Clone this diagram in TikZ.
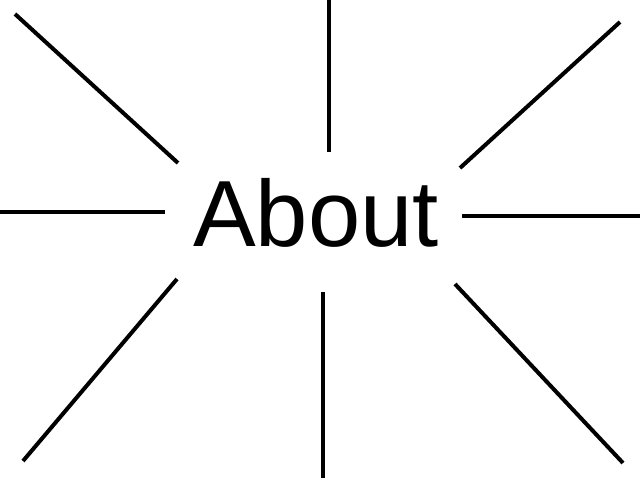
\documentclass[tikz,border=0pt]{standalone}
\usepackage{fontspec}
\setmainfont{Liberation Sans}
\usepackage{tikz}
\usetikzlibrary{positioning}

\begin{document}
\begin{tikzpicture}[x=1pt, y=-1pt,
  ray/.style={draw=black, line width=4pt},
  word/.style={inner sep=0pt, font=\fontsize{94}{94}\selectfont}
]
\useasboundingbox (0,0) rectangle (640,480);

% Centre word
\node[word, anchor=base] (about) at (316,246.5) {About};

% Ray ends (inner / outer)
\coordinate (nIn)  at (329,152); \coordinate (nOut)  at (329,0);
\coordinate (neIn) at (460,168); \coordinate (neOut) at (620,22);
\coordinate (eIn)  at (462,216); \coordinate (eOut)  at (640,216);
\coordinate (seIn) at (455,284); \coordinate (seOut) at (623,463);
\coordinate (sIn)  at (323,292); \coordinate (sOut)  at (323,478);
\coordinate (swIn) at (177,279); \coordinate (swOut) at (23,461);
\coordinate (wIn)  at (165,212); \coordinate (wOut)  at (0,212);
\coordinate (nwIn) at (178,163); \coordinate (nwOut) at (15,14);

% Rays
\foreach \d in {n, ne, e, se, s, sw, w, nw} {
  \draw[ray] (\d In) -- (\d Out);
}
\end{tikzpicture}
\end{document}
